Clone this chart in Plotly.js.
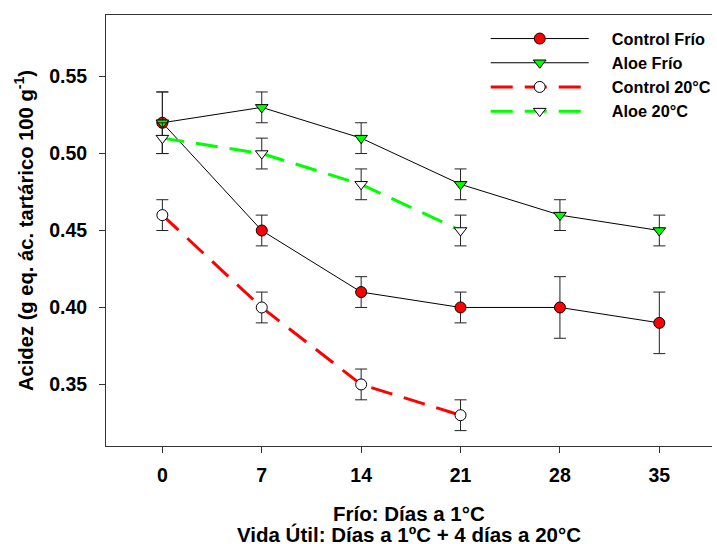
<!DOCTYPE html>
<html>
<head>
<meta charset="utf-8">
<script src="https://cdn.plot.ly/plotly-3.0.1.min.js"></script>
<style>html,body{margin:0;padding:0;background:#fff;}#chart{width:717px;height:544px;}</style>
</head>
<body>
<div id="chart"></div>
<script>
// Data
var days = [0, 7, 14, 21, 28, 35];
var days20 = [0, 7, 14, 21];
var controlFrio = [0.52, 0.45, 0.41, 0.40, 0.40, 0.39];
var controlFrioErr = [0.02, 0.01, 0.01, 0.01, 0.02, 0.02];
var aloeFrio = [0.52, 0.53, 0.51, 0.48, 0.46, 0.45];
var aloeFrioErr = [0.02, 0.01, 0.01, 0.01, 0.01, 0.01];
var control20 = [0.46, 0.40, 0.35, 0.33];
var control20Err = [0.01, 0.01, 0.01, 0.01];
var aloe20 = [0.51, 0.50, 0.48, 0.45];
var aloe20Err = [0.01, 0.01, 0.01, 0.01];
var seriesNames = ['Control Frío', 'Aloe Frío', 'Control 20°C', 'Aloe 20°C'];
var xTickVals = [0, 7, 14, 21, 28, 35];
var xTickText = ['0', '7', '14', '21', '28', '35'];
var yTickVals = [0.35, 0.40, 0.45, 0.50, 0.55];
var yTickText = ['0.35', '0.40', '0.45', '0.50', '0.55'];
var xTitle1 = 'Frío: Días a 1°C';
var xTitle2 = 'Vida Útil: Días a 1ºC + 4 días a 20°C';
var yTitle = 'Acidez (g eq. ác. tartárico 100 g<sup>-1</sup>)';

var pad = '\u00a0\u00a0\u00a0\u00a0';
function errBar(arr) {
  return {type: 'data', array: arr, visible: true, color: '#222', thickness: 1, width: 6};
}

var traces = [
  {x: days, y: controlFrio, name: pad + seriesNames[0], mode: 'lines+markers',
   line: {color: '#000', width: 1},
   marker: {symbol: 'circle', size: 11, color: '#ff0000', line: {color: '#000', width: 1}},
   error_y: errBar(controlFrioErr)},
  {x: days, y: aloeFrio, name: pad + seriesNames[1], mode: 'lines+markers',
   line: {color: '#000', width: 1},
   marker: {symbol: 'triangle-down', size: 11, color: '#00ff00', line: {color: '#000', width: 1}},
   error_y: errBar(aloeFrioErr)},
  {x: days20, y: control20, name: pad + seriesNames[2], mode: 'lines+markers',
   line: {color: '#ff0000', width: 3, dash: '22px,12px'},
   marker: {symbol: 'circle', size: 11, color: '#ffffff', line: {color: '#000', width: 1}},
   error_y: errBar(control20Err)},
  {x: days20, y: aloe20, name: pad + seriesNames[3], mode: 'lines+markers',
   line: {color: '#00ff00', width: 3, dash: '22px,12px'},
   marker: {symbol: 'triangle-down', size: 11, color: '#ffffff', line: {color: '#000', width: 1}},
   error_y: errBar(aloe20Err)}
];

var bold = 'Liberation Sans, Arial, sans-serif';
var layout = {
  width: 717, height: 544,
  margin: {l: 106, r: 0, t: 15, b: 98},
  paper_bgcolor: '#fff', plot_bgcolor: '#fff',
  showlegend: true,
  hovermode: false,
  font: {family: bold, color: '#000'},
  legend: {
    x: 0.6266, y: 0.985, xanchor: 'left', yanchor: 'top',
    bgcolor: 'rgba(0,0,0,0)', itemwidth: 98,
    font: {family: bold, size: 16.3, weight: 'bold', color: '#000'},
    tracegroupgap: 0
  },
  xaxis: {
    range: [-3.97, 38.71],
    tickvals: xTickVals, ticktext: xTickText,
    showgrid: false, zeroline: false,
    showline: true, linecolor: '#333', linewidth: 1, mirror: true,
    ticks: 'outside', ticklen: 6, tickcolor: '#333', tickwidth: 1,
    ticklabelstandoff: 6,
    tickfont: {family: bold, size: 19.5, weight: 'bold', color: '#000'}
  },
  yaxis: {
    range: [0.31, 0.59],
    tickvals: yTickVals, ticktext: yTickText,
    showgrid: false, zeroline: false,
    showline: true, linecolor: '#333', linewidth: 1,
    ticks: 'outside', ticklen: 6, tickcolor: '#333', tickwidth: 1,
    ticklabelstandoff: 8,
    tickfont: {family: bold, size: 19.5, weight: 'bold', color: '#000'},
    title: {text: yTitle,
            font: {family: bold, size: 20.2, weight: 'bold', color: '#000'}, standoff: 10}
  },
  annotations: [
    {text: xTitle1, xref: 'paper', yref: 'paper', x: 0.5, y: -0.156, xanchor: 'center', yanchor: 'middle',
     showarrow: false, borderpad: 0, height: 22.5, font: {family: bold, size: 20.5, weight: 'bold', color: '#000'}},
    {text: xTitle2, xref: 'paper', yref: 'paper', x: 0.5, y: -0.2045, xanchor: 'center', yanchor: 'middle',
     showarrow: false, borderpad: 0, height: 22.5, font: {family: bold, size: 20.5, weight: 'bold', color: '#000'}}
  ]
};

Plotly.newPlot('chart', traces, layout, {displayModeBar: false, staticPlot: true});
</script>
</body>
</html>
